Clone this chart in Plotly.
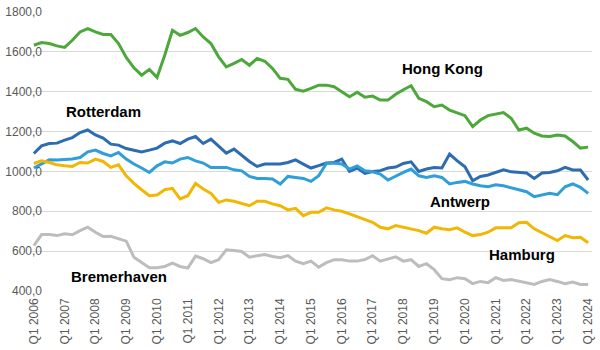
import plotly.graph_objects as go

# Quarterly index values, Q1 2006 .. Q1 2024 (73 quarters)
years = list(range(2006, 2025))
quarters = [f"Q{q} {y}" for y in years for q in (1, 2, 3, 4)][:73]
tick_labels = [f"Q1 {y}" for y in years]

hong_kong = [1633, 1647, 1642, 1630, 1622, 1658, 1700, 1717, 1700, 1687, 1687, 1642,
             1572, 1520, 1483, 1512, 1472, 1583, 1708, 1683, 1697, 1717,
             1675, 1642, 1575, 1525, 1542, 1562, 1533, 1567, 1553, 1517,
             1467, 1462, 1412, 1403, 1417, 1433, 1433, 1425, 1400, 1375,
             1397, 1372, 1378, 1358, 1358, 1387,
             1410, 1430, 1367, 1350, 1325, 1333, 1308, 1293, 1280, 1225,
             1258, 1280, 1288, 1295, 1267, 1208, 1217, 1192, 1178, 1175,
             1183, 1178, 1150, 1117, 1122]

rotterdam = [1090, 1128, 1140, 1142, 1157, 1170, 1195, 1208, 1183, 1167, 1137, 1132,
             1115, 1108, 1098, 1107, 1117, 1142, 1153, 1140, 1162, 1175,
             1140, 1162, 1129, 1092, 1112, 1079, 1050, 1025, 1037, 1037,
             1037, 1045, 1058, 1037, 1017, 1029, 1042, 1045, 1062, 1000,
             1017, 990, 1000, 1004, 1017, 1022,
             1040, 1048, 1000, 1012, 1020, 1017, 1087, 1053, 1023, 953,
             975, 982, 995, 1008, 998, 995, 992, 965, 992, 995,
             1003, 1020, 1007, 1007, 957]

antwerp = [1017, 1037, 1058, 1057, 1058, 1062, 1070, 1098, 1107, 1090, 1078, 1095,
           1062, 1037, 1017, 995, 1028, 1048, 1042, 1062, 1070, 1053,
           1042, 1020, 1020, 1020, 1008, 1003, 975, 965, 965, 962,
           937, 975, 970, 965, 950, 978, 1040, 1042, 1037, 1012,
           1028, 1003, 998, 987, 957, 977,
           995, 1012, 978, 970, 978, 970, 937, 945, 950, 937,
           928, 923, 933, 928, 917, 908, 898, 873, 883, 890,
           883, 923, 937, 920, 890]

hamburg = [1040, 1053, 1045, 1033, 1028, 1025, 1045, 1042, 1062, 1050, 1020, 1033,
           978, 940, 908, 878, 882, 908, 915, 862, 878, 940,
           912, 890, 845, 857, 850, 840, 828, 850, 850, 837,
           828, 807, 815, 778, 795, 795, 817, 807, 800, 787,
           773, 762, 745, 720, 712, 728,
           720, 712, 703, 690, 720, 712, 707, 717, 695, 678,
           683, 695, 717, 717, 717, 742, 745, 712, 692, 675,
           653, 678, 667, 670, 642]

bremerhaven = [628, 683, 683, 678, 687, 682, 703, 720, 695, 673, 675, 662,
               650, 570, 545, 517, 517, 523, 540, 523, 515, 575,
               562, 542, 557, 607, 603, 598, 570, 575, 583, 573,
               567, 578, 550, 537, 550, 520, 542, 557, 557, 550,
               550, 558, 577, 550, 562, 571,
               550, 557, 523, 537, 507, 462, 457, 467, 462, 437,
               448, 442, 467, 453, 457, 450, 440, 433, 448, 457,
               448, 437, 445, 433, 432]

series = [
    ("Hong Kong", hong_kong, "#4CA83A"),
    ("Rotterdam", rotterdam, "#2D6CB0"),
    ("Antwerp", antwerp, "#2F9ED9"),
    ("Hamburg", hamburg, "#F2B705"),
    ("Bremerhaven", bremerhaven, "#BDBDBD"),
]

# Series name labels placed next to their lines (quarter index, value)
label_pos = {
    "Hong Kong": (53.1, 1515),
    "Rotterdam": (9.1, 1302),
    "Antwerp": (55.4, 850),
    "Hamburg": (63.4, 582),
    "Bremerhaven": (11.0, 471),
}

x = list(range(len(quarters)))

fig = go.Figure()
for name, vals, color in series:
    fig.add_trace(go.Scatter(
        x=x, y=vals, name=name, mode="lines",
        line=dict(color=color, width=3),
        hovertext=quarters, showlegend=False,
    ))

for name, (lx, ly) in label_pos.items():
    fig.add_annotation(x=lx, y=ly, text=f"<b>{name}</b>", showarrow=False,
                       font=dict(family="Liberation Sans, Arial", size=15, color="#000000"),
                       xanchor="center", yanchor="middle")

fig.update_layout(
    width=600, height=350,
    margin=dict(l=30, r=4.6, t=11.7, b=59.3),
    paper_bgcolor="white", plot_bgcolor="white",
    separators=",.",
    font=dict(family="Liberation Sans, Arial", size=12, color="#595959"),
)
fig.update_xaxes(
    range=[-0.5, 72.5],
    tickmode="array",
    tickvals=[i * 4 for i in range(len(tick_labels))],
    ticktext=tick_labels,
    tickangle=-90,
    showgrid=False, zeroline=False,
    showline=False, ticks="",
    ticklabelstandoff=4,
    tickfont=dict(size=12, color="#595959"),
)
fig.update_yaxes(
    range=[400, 1800],
    dtick=200,
    tickformat=".1f",
    showgrid=True, gridcolor="#D9D9D9", gridwidth=1,
    zeroline=False, showline=False, ticks="",
    ticklabelstandoff=-13,
    tickfont=dict(size=12, color="#595959"),
)

fig.write_html("out.html")
